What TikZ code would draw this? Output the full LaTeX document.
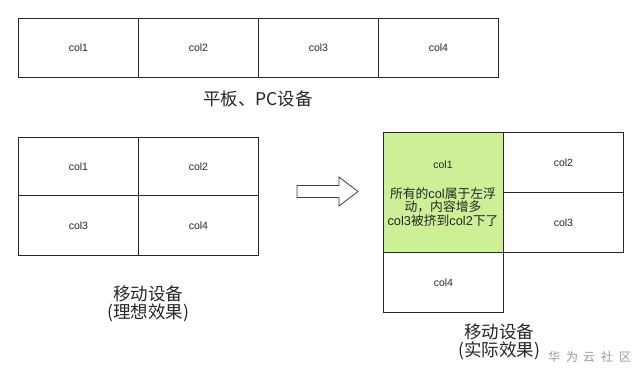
\documentclass[tikz,border=0pt]{standalone}
\usepackage{fontspec}
\setmainfont{Liberation Sans}
\newfontfamily\cjk{Noto Sans CJK SC}
\definecolor{cellgreen}{HTML}{CDEF95}
\definecolor{wmgray}{HTML}{9A9A9A}
\begin{document}
\begin{tikzpicture}[x=1pt,y=-1pt,
  cell/.style={draw=black!85,line width=0.9pt,minimum width=120pt,inner sep=0pt,anchor=north west,font=\fontsize{10.5}{12}\selectfont,text=black!85},
  lbl/.style={font=\cjk\fontsize{17.5}{18.5}\selectfont,text=black!85,align=center},
  wm/.style={font=\cjk\fontsize{12}{12}\selectfont,text=wmgray}]
\useasboundingbox (0,0) rectangle (643,380);
% top row
\node[cell,minimum height=59pt] (t1) at (18,18) {col1};
\node[cell,minimum height=59pt] (t2) at (138,18) {col2};
\node[cell,minimum height=59pt] (t3) at (258,18) {col3};
\node[cell,minimum height=59pt] (t4) at (378,18) {col4};
\node[lbl] (tl) at (258,99) {平板、PC设备};
% ideal grid
\node[cell,minimum height=58pt] (i1) at (18,137) {col1};
\node[cell,minimum height=58pt] (i2) at (138,137) {col2};
\node[cell,minimum height=60pt] (i3) at (18,195) {col3};
\node[cell,minimum height=60pt] (i4) at (138,195) {col4};
\node[lbl] (il) at (148,304) {移动设备\\(理想效果)};
% arrow
\draw[black!75,line width=0.8pt,fill=white] (297,185.5) -- (339,185.5) -- (339,177) -- (358,191.5) -- (339,206) -- (339,197.5) -- (297,197.5) -- cycle;
% actual grid
\node[cell,minimum height=120pt,fill=cellgreen] (a1) at (383,132) {};
\node[font=\fontsize{10.5}{12}\selectfont,text=black!85] (a1t) at (443,165) {col1};
\node[font=\fontsize{12.8}{13.5}\selectfont,text=black!85,align=center] (a1n) at (443,207) {{\cjk 所有的}col{\cjk 属于左浮}\\{\cjk 动，内容增多}\\col3{\cjk 被挤到}col2{\cjk 下了}};
\node[cell,minimum height=60pt] (a2) at (503,132) {col2};
\node[cell,minimum height=60pt] (a3) at (503,192) {col3};
\node[cell,minimum height=60pt] (a4) at (383,252) {col4};
\node[lbl] (al) at (499,342) {移动设备\\(实际效果)};
% watermark
\node[wm] (w1) at (554,357) {华};
\node[wm] (w2) at (572,357) {为};
\node[wm] (w3) at (589,357) {云};
\node[wm] (w4) at (607,357) {社};
\node[wm] (w5) at (625,357) {区};
\end{tikzpicture}
\end{document}
